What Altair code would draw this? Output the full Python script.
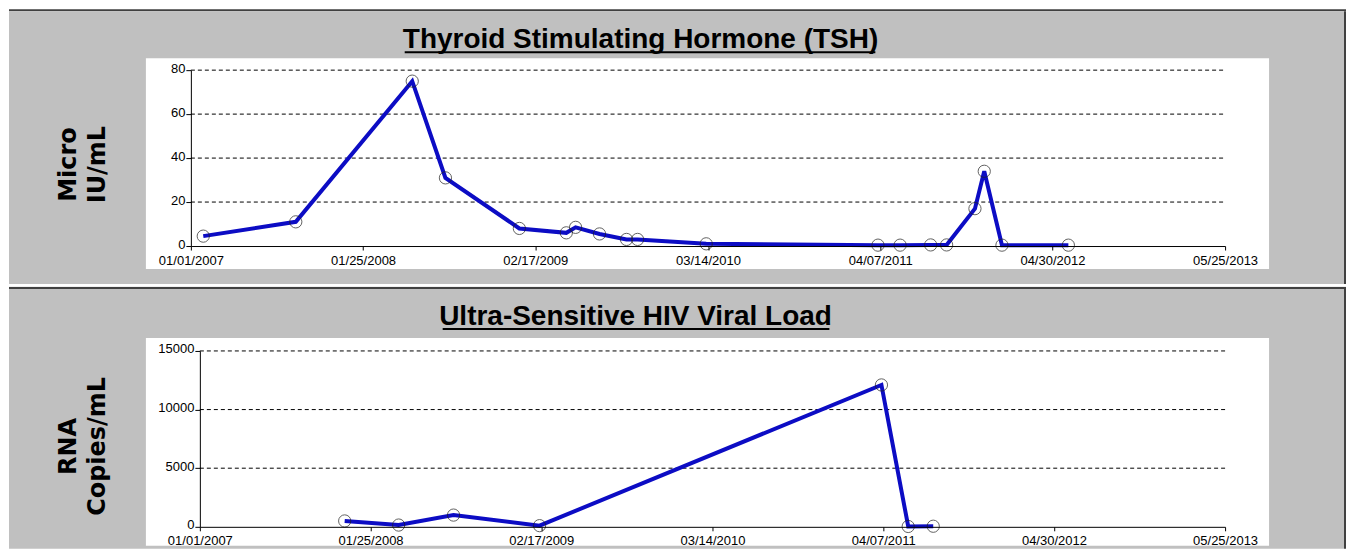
import altair as alt
import pandas as pd

# ---------------- data ----------------
tsh_dates = ["2007-01-29", "2007-08-26", "2008-05-15", "2008-07-29", "2009-01-12",
             "2009-04-28", "2009-05-19", "2009-07-12", "2009-09-11", "2009-10-06",
             "2010-03-10", "2011-04-02", "2011-05-22", "2011-07-30", "2011-09-04",
             "2011-11-07", "2011-11-28", "2012-01-07", "2012-06-05"]
tsh_values = [4.5, 11, 75, 31, 8, 6, 8.5, 5.5, 3, 3,
              1, 0.4, 0.4, 0.5, 0.5, 17, 34, 0.4, 0.4]

hiv_dates = ["2007-11-27", "2008-03-29", "2008-08-01", "2009-02-13",
             "2011-04-03", "2011-06-03", "2011-07-30"]
hiv_values = [500, 150, 1000, 100, 12100, 30, 50]

tick_dates = [(2007, 1, 1), (2008, 1, 25), (2009, 2, 17), (2010, 3, 14),
              (2011, 4, 7), (2012, 4, 30), (2013, 5, 25)]

tsh_ticks = [0, 20, 40, 60, 80]
hiv_ticks = [0, 5000, 10000, 15000]

tsh_title = "Thyroid Stimulating Hormone (TSH)"
hiv_title = "Ultra-Sensitive HIV Viral Load"
tsh_ytitle = ["Micro", "IU/mL"]
hiv_ytitle = ["RNA", "Copies/mL"]

# ---------------- style ----------------
GRAY = "#c0c0c0"
DARK = "#404040"
BLUE = "#0c0cc4"
LABEL_FONT = "Liberation Sans, Arial, sans-serif"
TITLE_FONT = "Liberation Sans, Arial, sans-serif"
YTITLE_FONT = "DejaVu Sans, Verdana, sans-serif"
W, H = 1035, 176


def dt(t):
    return alt.DateTime(year=t[0], month=t[1], date=t[2], utc=True)


one = pd.DataFrame({"k": [0]})


def box(x1, x2, y1, y2, color):
    return alt.Chart(one).mark_rect(color=color).encode(
        x=alt.value(x1), x2=alt.value(x2), y=alt.value(y1), y2=alt.value(y2))


def panel(dates, values, ticks, ytitle, title, deco, title_pos, ul, ytitle_y, x0):
    df = pd.DataFrame({"date": dates, "value": values})
    xscale = alt.Scale(type="utc", domain=[dt(tick_dates[0]), dt(tick_dates[-1])],
                       nice=False, range=[x0, W])
    yscale = alt.Scale(domain=[ticks[0], ticks[-1]], nice=False)
    xaxis = alt.Axis(values=[dt(t) for t in tick_dates], format="%m/%d/%Y", title=None,
                     grid=False, zindex=1, labelFont=LABEL_FONT, labelFontSize=13,
                     labelColor="black", tickColor="black", domainColor="black",
                     tickSize=4, labelPadding=4, labelFlush=False, labelOverlap=False)
    yaxis = alt.Axis(values=ticks, format="d", grid=False, zindex=1, labelFont=LABEL_FONT,
                     labelFontSize=13, labelColor="black", tickColor="black",
                     domainColor="black", tickSize=5, labelPadding=1, labelOffset=-2,
                     offset=-x0,
                     title=ytitle, titleFont=YTITLE_FONT, titleFontSize=24,
                     titleFontWeight="bold", titleColor="black", titleAngle=270,
                     titleX=-122 - x0, titleY=ytitle_y, titleAlign="center",
                     titleBaseline="middle", titleLineHeight=29)

    grid = alt.Chart(pd.DataFrame({"g": ticks[1:]})).mark_rule(
        color="black", strokeDash=[4, 3], strokeWidth=1).encode(
        y=alt.Y("g:Q", scale=yscale, axis=yaxis), x=alt.value(x0), x2=alt.value(W))
    line = alt.Chart(df).mark_line(color=BLUE, strokeWidth=4).encode(
        x=alt.X("date:T", scale=xscale, axis=xaxis),
        y=alt.Y("value:Q", scale=yscale, axis=yaxis))
    pts = alt.Chart(df).mark_point(shape="circle", filled=False, size=150,
                                   color="#202020", strokeWidth=1).encode(
        x=alt.X("date:T", scale=xscale, axis=xaxis),
        y=alt.Y("value:Q", scale=yscale, axis=yaxis))
    ttl = alt.Chart(one).mark_text(text=title, font=TITLE_FONT, fontSize=28,
                                   fontWeight="bold", align="center",
                                   baseline="alphabetic", color="black").encode(
        x=alt.value(title_pos[0]), y=alt.value(title_pos[1]))
    under = alt.Chart(one).mark_rule(color="black", strokeWidth=2).encode(
        x=alt.value(ul[0]), x2=alt.value(ul[1]), y=alt.value(ul[2]))
    return alt.layer(*deco, grid, line, pts, ttl, under).properties(width=W, height=H)


top_deco = [
    box(-182, 1156, -61, -59, DARK),
    box(-182, 1154, -59, 214, GRAY),
    box(1154, 1156, -59, 214, DARK),
    box(-45, 1079, -12, 199, "white"),
]
bottom_deco = [
    box(-182, 1156, -65, -64, "#f0f0f0"),
    box(-182, 1156, -64, -62, DARK),
    box(-182, 1154, -62, 198, GRAY),
    box(1154, 1156, -62, 198, DARK),
    box(-45, 1079, -13, 195, "white"),
]

top = panel(tsh_dates, tsh_values, tsh_ticks, tsh_ytitle, tsh_title, top_deco,
            (450, -22), (214, 685, -18), 94, 0)
bottom = panel(hiv_dates, hiv_values, hiv_ticks, hiv_ytitle, hiv_title, bottom_deco,
               (445, -26), (252, 639, -22), 95, 9)

chart = alt.vconcat(top, bottom, spacing=0).properties(
    padding=0, background="white").configure_view(stroke="transparent")

chart.save("out.html", embed_options={"renderer": "svg", "actions": False})
